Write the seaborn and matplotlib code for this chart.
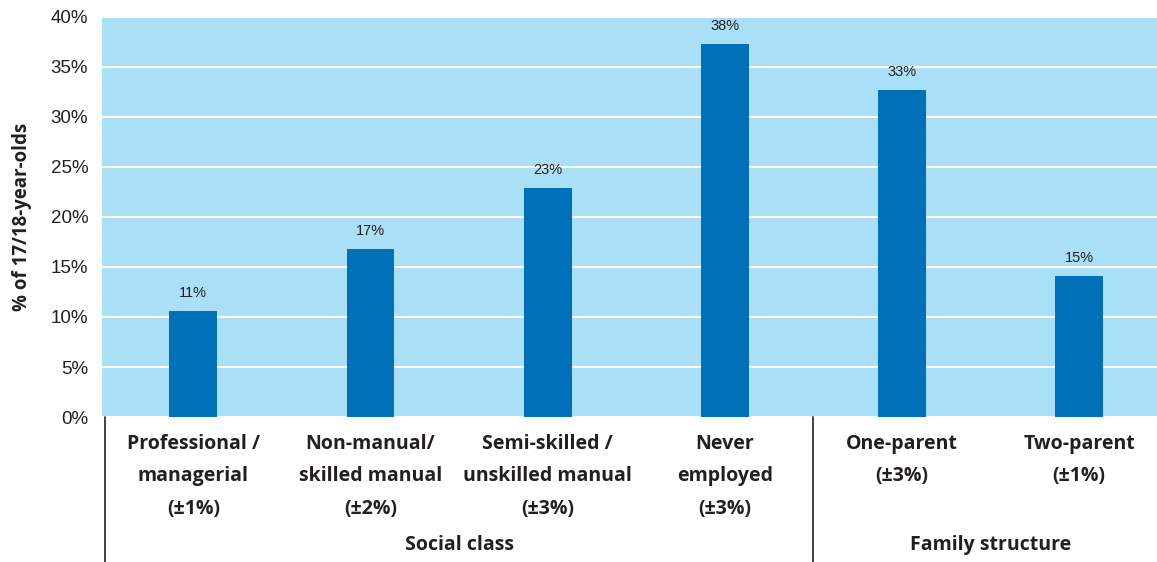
import pandas as pd
import matplotlib.pyplot as plt
import seaborn as sns

# data
categories = ['Professional /\nmanagerial\n(±1%)', 'Non-manual/\nskilled manual\n(±2%)',
              'Semi-skilled /\nunskilled manual\n(±3%)', 'Never\nemployed\n(±3%)',
              'One-parent\n(±3%)', 'Two-parent\n(±1%)']
values = [10.6, 16.8, 22.9, 37.3, 32.7, 14.1]
value_labels = ['11%', '17%', '23%', '38%', '33%', '15%']
groups = ['Social class', 'Family structure']
group_sizes = [4, 2]
y_ticks = [0, 5, 10, 15, 20, 25, 30, 35, 40]

sns.set_theme(style='white')
plt.rcParams['font.family'] = ['Liberation Sans', 'DejaVu Sans']

bg = '#aadff8'
bar_color = '#0070b9'
txt = '#231f20'
bold_font = ['Open Sans', 'DejaVu Sans']

df = pd.DataFrame({'cat': categories, 'val': values})

fig = plt.figure(figsize=(11.57, 5.62), dpi=100)
ax = fig.add_axes([0.0882, 0.258, 0.9118, 0.7118])
ax.set_facecolor(bg)

sns.barplot(data=df, x='cat', y='val', color=bar_color, saturation=1,
            width=0.27, linewidth=0, ax=ax, zorder=3)

ax.set_ylim(0, 40)
ax.set_xlim(-0.515, 5.44)
ax.set_yticks(y_ticks)
ax.set_yticklabels([f'{t}%' for t in y_ticks], fontsize=13.5, color=txt)
ax.yaxis.grid(True, color='white', linewidth=1.5, zorder=0)
ax.set_axisbelow(True)
ax.tick_params(axis='y', length=0, pad=10)
ax.tick_params(axis='x', length=0, pad=12)
for s in ax.spines.values():
    s.set_visible(False)

ax.set_xticks(range(len(categories)))
ax.set_xticklabels(categories, fontsize=14, fontweight='bold', color=txt,
                   family=bold_font, linespacing=1.85, va='top')
ax.set_xlabel('')
ax.set_ylabel('% of 17/18-year-olds', fontsize=13.5, fontweight='bold', color=txt,
              family=bold_font, labelpad=13)

for i, (v, lab) in enumerate(zip(values, value_labels)):
    ax.annotate(lab, (i, v), xytext=(0, 8), textcoords='offset points',
                ha='center', va='bottom', fontsize=10.5, color=txt)

# group separators and group labels below the axis
trans = ax.get_xaxis_transform()
start = 0
bounds = [-0.5]
for g, n in zip(groups, group_sizes):
    mid = start + (n - 1) / 2
    ax.text(mid, -0.32, g, transform=trans, ha='center', va='center',
            fontsize=14, fontweight='bold', color=txt, family=bold_font)
    start += n
    bounds.append(start - 0.5)
for b in bounds[:-1]:
    xb = b if b != -0.5 else -0.497
    ax.plot([xb, xb], [0, -0.37], transform=trans, color=txt, lw=1.2,
            clip_on=False)

fig.savefig('out.png', dpi=100)
